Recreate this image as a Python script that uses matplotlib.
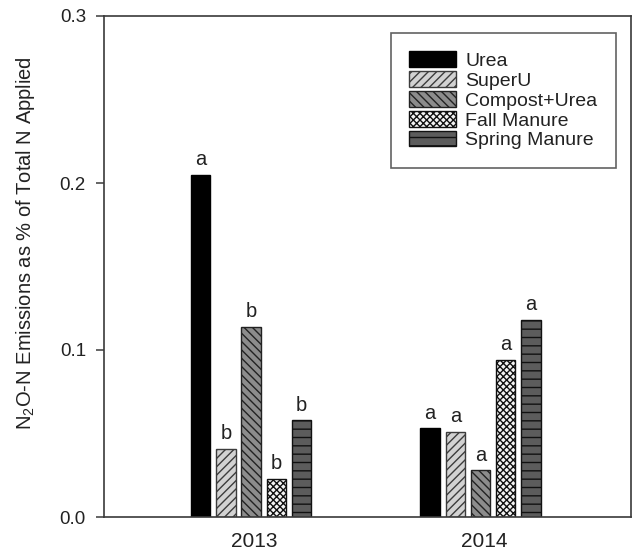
import numpy as np
import matplotlib
matplotlib.use("Agg")
import matplotlib.pyplot as plt

plt.rcParams['font.family'] = ['Liberation Sans', 'DejaVu Sans']
plt.rcParams['mathtext.default'] = 'regular'
plt.rcParams['hatch.linewidth'] = 1.0

years = ['2013', '2014']
treatments = ['Urea', 'SuperU', 'Compost+Urea', 'Fall Manure', 'Spring Manure']
emissions = {
    'Urea':          [0.205, 0.053],
    'SuperU':        [0.041, 0.051],
    'Compost+Urea':  [0.114, 0.028],
    'Fall Manure':   [0.023, 0.094],
    'Spring Manure': [0.058, 0.118],
}
letters = {
    'Urea':          ['a', 'a'],
    'SuperU':        ['b', 'a'],
    'Compost+Urea':  ['b', 'a'],
    'Fall Manure':   ['b', 'a'],
    'Spring Manure': ['b', 'a'],
}

styles = {
    'Urea':          dict(facecolor='black', edgecolor='black', hatch=None),
    'SuperU':        dict(facecolor='#d2d2d2', edgecolor='#3c3c3c', hatch='////'),
    'Compost+Urea':  dict(facecolor='#8c8c8c', edgecolor='#222222', hatch='\\\\\\\\'),
    'Fall Manure':   dict(facecolor='#f4f4f4', edgecolor='#111111', hatch='xxxxx'),
    'Spring Manure': dict(facecolor='#5c5c5c', edgecolor='#111111', hatch='--'),
}

fig = plt.figure(figsize=(6.34, 5.54), dpi=100)
ax = fig.add_axes([104 / 634, 1 - 517 / 554, (631 - 104) / 634, (517 - 16) / 554])

x = np.arange(len(years))
step = 0.11
width = 0.085
shift = -0.015
for i, name in enumerate(treatments):
    pos = x + shift + (i - 2) * step
    st = styles[name]
    bars = ax.bar(pos, emissions[name], width=width, facecolor=st['facecolor'],
                  edgecolor=st['edgecolor'], hatch=st['hatch'], linewidth=1.0,
                  label=name, zorder=2)
    for b, lab in zip(bars, letters[name]):
        ax.annotate(lab, (b.get_x() + b.get_width() / 2, b.get_height()),
                    xytext=(0, 4), textcoords='offset points',
                    ha='center', va='bottom', fontsize=14.5, color='#222222')

ax.set_xlim(-0.656, 1.641)
ax.set_ylim(0, 0.3)
ax.set_yticks([0.0, 0.1, 0.2, 0.3])
ax.set_yticklabels(['0.0', '0.1', '0.2', '0.3'])
ax.set_xticks(x)
ax.set_xticklabels(years)

for sp in ax.spines.values():
    sp.set_color('#3a3a3a')
    sp.set_linewidth(1.2)

ax.tick_params(axis='y', direction='out', length=6, width=1.1, color='#3a3a3a',
               labelsize=13.5, pad=7, labelcolor='#222222')
ax.tick_params(axis='x', length=0, labelsize=15, pad=11, labelcolor='#222222')

ax.set_ylabel('N$_2$O-N Emissions as % of Total N Applied', fontsize=14.5,
              color='#222222')
ax.yaxis.label.set_va('center')
ax.yaxis.set_label_coords((26 - 104) / 527, (517 - 243) / 501)

leg = ax.legend(loc='upper right', bbox_to_anchor=((616 - 104) / 527, (517 - 33) / 501),
                fontsize=14, frameon=True, fancybox=False, shadow=False,
                borderpad=0.95, labelspacing=0.07, handlelength=2.4,
                handleheight=0.85, handletextpad=0.5, borderaxespad=0)
leg.get_frame().set_edgecolor('#3a3a3a')
leg.get_frame().set_linewidth(1.2)
for t in leg.get_texts():
    t.set_color('#222222')

fig.savefig('out.png', dpi=100)
